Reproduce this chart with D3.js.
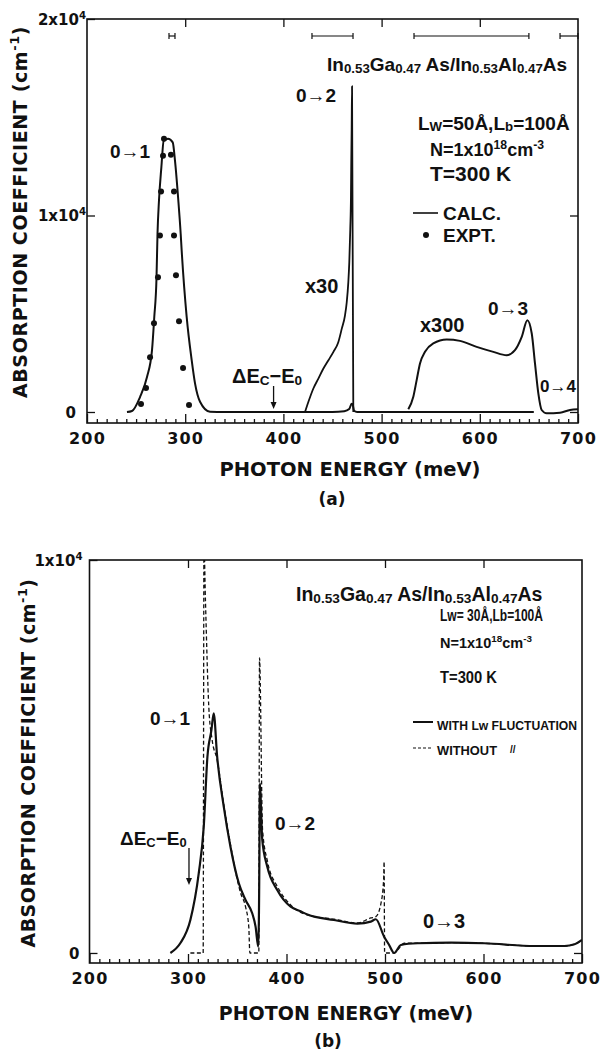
<!DOCTYPE html>
<html><head><meta charset="utf-8">
<script src="https://cdn.jsdelivr.net/npm/d3@7"></script>
<style>body{margin:0;background:#fff}</style>
</head><body>
<svg id="chart" width="600" height="1050"></svg>
<script>
// ---------------- DATA (panel a) ----------------
const energyCalcA = [240.7,245.8,254.0,261.1,266.2,268.5,270.8,271.8,273.3,275.7,278.1,282.5,287.3,289.6,293.0,295.4,296.4,301.5,306.6,310.0,315.1,325.3,340,400,450,462,467,469.5,470.5,472,475,550,655];
const alphaCalcA  = [0,51,761,1777,3147,4822,6868,9071,10761,12437,13807,13909,13721,12792,10761,9071,8223,4838,2640,1457,523,15,0,0,0,40,150,420,380,60,0,0,0];
const energyX30 = [422.0,425.4,430.4,435.5,440.6,445.7,450.8,455.9,459.4,462.7,464.5,466.1,467.1,468.1,468.8,469.1,469.5,469.9,471.2];
const alphaX30  = [0,508,1183,1690,2198,2624,3046,3553,4229,4909,5584,6599,7614,9305,11000,12690,14381,16584,0];
const energyX300 = [527.2,532.3,535.7,539.1,544.2,552.6,566.3,579.8,596.8,613.8,627.4,635.8,642.7,648.4,652.9,656.2,659.6,663.0,668.1,681.7,691.9,700];
const alphaX300  = [137,777,1624,2472,3061,3487,3690,3619,3315,3061,2893,3147,3822,4670,3995,2472,949,102,-66,-36,102,137];
const energyExpt = [278.4,277.4,285.5,275.4,288.6,274.3,288.6,272.3,290.6,268.2,293.7,264.2,297.8,260.1,255.0,303.9];
const alphaExpt  = [13909,13046,13096,11218,11218,8985,8985,6853,6954,4518,4619,2792,2234,1218,406,355];
const errorBarsA = [[283.5,289.6],[429.1,470.9],[533.0,650.0],[681.7,700]];

// ---------------- DATA (panel b) ----------------
const energyWith = [282.1,292.3,302.4,310.9,316.0,319.7,323.8,326.1,329.6,336.3,343.1,351.6,358.4,365.2,368.6,371.3,372.6,372.9,375.4,380.5,390.6,404.2,414.3,421.2,448.2,472.0,485.6,490.7,499.1,504.2,509.3,516.1,533.1,566.9,600.8,651.7,682.2,692.4,700];
const alphaWith  = [0,254,840,2028,3214,4988,5675,6100,4996,3723,2705,1774,1349,1010,669,160,2876,4319,2876,2196,1603,1178,1060,980,840,745,797,858,415,204,0,204,247,262,247,178,178,221,331];
const energyWithout = [302.4,315.4,316.2,317.7,321.1,324.5,329.6,336.3,343.1,353.5,358.4,361.7,362.8,371.9,372.6,375.7,380.8,391.0,404.2,421.2,448.2,472.0,485.6,490.7,495.9,498.6,499.1,499.6,509.0,512.7,519.4,533.1,566.9,600.8,651.7,682.2,692.4,700];
const alphaWithout  = [0,0,10400,8984,6268,5421,4912,3780,2760,1519,1178,669,0,0,7508,3130,2316,1680,1222,967,860,763,891,924,1265,1858,2324,0,0,76,247,247,262,247,178,178,221,331];

// ---------------- TICKS / LABELS ----------------
const xMajor = [200,300,400,500,600,700];
const xTop = [300,400,500,600];
const xMinor = d3.range(210,700,10).filter(v => v % 100 !== 0);
const yTicksA = [0,10000,20000];
const yLabelsA = [[["0"]],[["1x10"],["4",1]],[["2x10"],["4",1]]];
const yTicksB = [0,10000];
const yLabelsB = [[["0"]],[["1x10"],["4",1]]];

const DV = "DejaVu Sans";
const LS = "Liberation Sans";
const svg = d3.select("#chart");

const xA = d3.scaleLinear().domain([200,700]).range([87,578]);
const yA = d3.scaleLinear().domain([-560,20000]).range([423,19]);
const xB = d3.scaleLinear().domain([200,700]).range([89.5,582]);
const yB = d3.scaleLinear().domain([-255,10000]).range([963,560]);

function rich(g, x, y, parts, o) {
  o = o || {};
  const fs = o.fs || 16;
  const t = g.append("text").attr("x", x).attr("y", y)
    .attr("font-family", o.font || LS).attr("font-weight", "bold")
    .attr("font-size", fs).attr("fill", "#111")
    .attr("text-anchor", o.anchor || "start");
  if (o.len) t.attr("textLength", o.len).attr("lengthAdjust", "spacingAndGlyphs");
  if (o.ls) t.attr("letter-spacing", o.ls);
  if (o.transform) t.attr("transform", o.transform);
  const subOff = o.subOff != null ? o.subOff : 0.12;
  let cur = 0;
  parts.forEach(p => {
    const mode = p[1] || 0;
    const off = mode === 1 ? -0.4 * fs : mode === -1 ? subOff * fs : 0;
    t.append("tspan").attr("dy", (off - cur).toFixed(2))
      .attr("font-size", mode ? fs * (o.subScale || 0.68) : fs).text(p[0]);
    cur = off;
  });
  return t;
}

function frameAndAxes(x, y, yTicks, yLabels, rightTicks, labelPads) {
  const g = svg.append("g");
  const xl = x.range()[0], xr = x.range()[1], yb = y.range()[0], yt = y.range()[1];
  const styleAxis = s => { s.select(".domain").remove(); s.selectAll("line").attr("stroke","#111").attr("stroke-width",1.3); };
  g.append("g").attr("transform", `translate(0,${yb})`)
    .call(d3.axisBottom(x).tickValues(xMinor).tickSize(-4).tickFormat("")).call(styleAxis);
  const mb = g.append("g").attr("transform", `translate(0,${yb})`)
    .call(d3.axisBottom(x).tickValues(xMajor).tickSize(-9).tickPadding(10).tickFormat(d3.format("d"))).call(styleAxis);
  mb.selectAll("text").attr("font-family", DV).attr("font-weight","bold").attr("font-size", 16)
    .attr("fill","#111").attr("letter-spacing", 1.2);
  g.append("g").attr("transform", `translate(0,${yt})`)
    .call(d3.axisTop(x).tickValues(xTop).tickSize(-8).tickFormat("")).call(styleAxis);
  g.append("g").attr("transform", `translate(${xl},0)`)
    .call(d3.axisLeft(y).tickValues(yTicks).tickSize(-8).tickFormat("")).call(styleAxis);
  g.append("g").attr("transform", `translate(${xr},0)`)
    .call(d3.axisRight(y).tickValues(rightTicks).tickSize(-8).tickFormat("")).call(styleAxis);
  g.append("rect").attr("x", xl).attr("y", yt).attr("width", xr - xl).attr("height", yb - yt)
    .attr("fill","none").attr("stroke","#111").attr("stroke-width",1.6);
  yTicks.forEach((v, i) => {
    const pad = yLabels[i].length === 1 ? labelPads[0] : labelPads[1];
    rich(g, xl - pad, y(v) + 6, yLabels[i], {fs: 15, anchor: "end", font: DV});
  });
  return g;
}

const lineGen = d3.line().x(d => d[0]).y(d => d[1]).curve(d3.curveMonotoneX);
function series(g, xs, ys, ex, al, w, dash) {
  const pts = ex.map((e,i) => [xs(e), ys(al[i])]);
  const p = g.append("path").attr("d", lineGen(pts)).attr("fill","none")
    .attr("stroke","#111").attr("stroke-width", w).attr("stroke-linejoin","round");
  if (dash) p.attr("stroke-dasharray", dash);
  return p;
}
function arrow(g, x, y1, y2) {
  g.append("line").attr("x1", x).attr("x2", x).attr("y1", y1).attr("y2", y2 - 6).attr("stroke","#111").attr("stroke-width",1.3);
  g.append("path").attr("d", `M${x-3},${y2-7}L${x+3},${y2-7}L${x},${y2}Z`).attr("fill","#111");
}

// ================= PANEL A =================
const gA = frameAndAxes(xA, yA, yTicksA, yLabelsA, [0,10000], [11,1]);
series(gA, xA, yA, energyCalcA, alphaCalcA, 2);
series(gA, xA, yA, energyX30, alphaX30, 1.8);
series(gA, xA, yA, energyX300, alphaX300, 2);
gA.selectAll("circle.expt").data(energyExpt).join("circle").attr("class","expt")
  .attr("cx", d => xA(d)).attr("cy", (d,i) => yA(alphaExpt[i])).attr("r", 3).attr("fill","#111");
errorBarsA.forEach(b => {
  const y0 = 36;
  gA.append("line").attr("x1", xA(b[0])).attr("x2", xA(b[1])).attr("y1", y0).attr("y2", y0).attr("stroke","#111").attr("stroke-width",1.2);
  [b[0], b[1]].forEach(e => gA.append("line").attr("x1", xA(e)).attr("x2", xA(e)).attr("y1", y0-3).attr("y2", y0+3).attr("stroke","#111").attr("stroke-width",1.2));
});
arrow(gA, xA(390), 386, 409);

const headParts = [["In"],["0.53",-1],["Ga"],["0.47",-1],[" As/In"],["0.53",-1],["Al"],["0.47",-1],["As"]];
rich(gA, 327, 71, headParts, {fs: 19, subScale: 0.7});
rich(gA, 418, 130, [["L"],["W",-1],["=50Å,L"],["b",-1],["=100Å"]], {fs: 19, subOff: 0.03, subScale: 0.7});
rich(gA, 430, 156, [["N=1x10"],["18",1],["cm"],["-3",1]], {fs: 18});
rich(gA, 430, 181, [["T=300 K"]], {fs: 21});
gA.append("line").attr("x1", 413).attr("x2", 438).attr("y1", 213).attr("y2", 213).attr("stroke","#111").attr("stroke-width",1.6);
rich(gA, 443, 220, [["CALC."]], {fs: 19});
gA.append("circle").attr("cx", 426).attr("cy", 235).attr("r", 3).attr("fill","#111");
rich(gA, 443, 242, [["EXPT."]], {fs: 19});
rich(gA, 110, 158, [["0→1"]], {fs: 19});
rich(gA, 296, 102, [["0→2"]], {fs: 19});
rich(gA, 305, 293, [["x30"]], {fs: 20});
rich(gA, 420, 332, [["x300"]], {fs: 20});
rich(gA, 488, 315, [["0→3"]], {fs: 19});
rich(gA, 540, 392, [["0→4"]], {fs: 17});
rich(gA, 232, 383, [["ΔE"],["C",-1],["−E"],["0",-1]], {fs: 20});
rich(gA, 350, 476, [["PHOTON ENERGY (meV)"]], {fs: 19.5, anchor: "middle", font: DV});
rich(gA, 332, 505, [["(a)"]], {fs: 17, anchor: "middle", font: DV});
rich(gA, 0, 0, [["ABSORPTION COEFFICIENT (cm"],["-1",1],[")"]], {fs: 19, anchor: "middle", font: DV, ls: 0.6, transform: "translate(27,212) rotate(-90)"});

// ================= PANEL B =================
const gB = frameAndAxes(xB, yB, yTicksB, yLabelsB, [0], [10,7]);
svg.append("clipPath").attr("id","clipB").append("rect")
  .attr("x", xB.range()[0]).attr("y", yB.range()[1]).attr("width", xB.range()[1]-xB.range()[0]).attr("height", yB.range()[0]-yB.range()[1]);
const gBd = gB.append("g").attr("clip-path","url(#clipB)");
series(gBd, xB, yB, energyWithout, alphaWithout, 1.3, "4,2.5");
series(gBd, xB, yB, energyWith, alphaWith, 2.2);
arrow(gB, xB(301), 848, 885);

rich(gB, 296, 601, headParts, {fs: 19.5, subScale: 0.7});
rich(gB, 440, 621, [["Lw= 30Å,Lb=100Å"]], {fs: 16, len: 103});
rich(gB, 440, 648, [["N=1x10"],["18",1],["cm"],["-3",1]], {fs: 14.5});
rich(gB, 440, 683, [["T=300 K"]], {fs: 17, len: 57});
gB.append("line").attr("x1", 413).attr("x2", 433).attr("y1", 722).attr("y2", 722).attr("stroke","#111").attr("stroke-width",2);
rich(gB, 437, 730, [["WITH Lw FLUCTUATION"]], {fs: 13.5, len: 140});
gB.append("line").attr("x1", 413).attr("x2", 433).attr("y1", 748).attr("y2", 748).attr("stroke","#111").attr("stroke-width",1.2).attr("stroke-dasharray","3,2");
rich(gB, 437, 755, [["WITHOUT"]], {fs: 13.5, len: 60});
rich(gB, 510, 753, [["//"]], {fs: 10});
rich(gB, 150, 725, [["0→1"]], {fs: 19});
rich(gB, 275, 830, [["0→2"]], {fs: 19});
rich(gB, 423, 928, [["0→3"]], {fs: 20});
rich(gB, 120, 845, [["ΔE"],["C",-1],["−E"],["0",-1]], {fs: 19});
rich(gB, 346, 1020, [["PHOTON ENERGY (meV)"]], {fs: 19, anchor: "middle", font: DV});
rich(gB, 328, 1047, [["(b)"]], {fs: 17, anchor: "middle", font: DV});
rich(gB, 0, 0, [["ABSORPTION COEFFICIENT (cm"],["-1",1],[")"]], {fs: 19, anchor: "middle", font: DV, ls: 0.5, transform: "translate(35,763) rotate(-90)"});
</script>
</body></html>
